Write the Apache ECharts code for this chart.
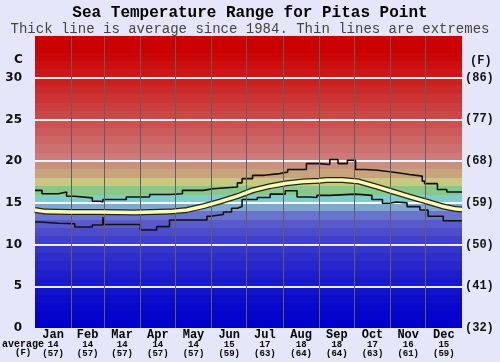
<!DOCTYPE html>
<html>
<head>
<meta charset="utf-8">
<script src="https://cdn.jsdelivr.net/npm/echarts@6/dist/echarts.min.js"></script>
<style>
  html, body { margin: 0; padding: 0; background: #e6e6fa; }
  #chart { width: 500px; height: 362px; }
</style>
</head>
<body>
<div id="chart"></div>
<script>
// months and where they start (day of year)
const months = ['Jan', 'Feb', 'Mar', 'Apr', 'May', 'Jun', 'Jul', 'Aug', 'Sep', 'Oct', 'Nov', 'Dec'];
const monthStart = [0, 31, 59, 90, 120, 151, 181, 212, 243, 273, 304, 334, 365];
const monthAvgC = [14, 14, 14, 14, 14, 15, 17, 18, 18, 17, 16, 15];
const monthAvgF = ['(57)', '(57)', '(57)', '(57)', '(57)', '(59)', '(63)', '(64)', '(64)', '(63)', '(61)', '(59)'];

// axis ticks
const cTicks = [0, 5, 10, 15, 20, 25, 30];
const fTicks = ['(32)', '(41)', '(50)', '(59)', '(68)', '(77)', '(86)'];

// [day, degC]
const avgLine = [
  [0, 14.15], [9, 13.95], [30, 13.9], [55, 13.9], [85, 13.85], [115, 13.95], [130, 14.15],
  [144, 14.6], [158, 15.15], [173, 15.8], [186, 16.5], [201, 17.0], [215, 17.35],
  [229, 17.55], [243, 17.65], [249, 17.75], [263, 17.75], [277, 17.55], [292, 16.95],
  [306, 16.35], [320, 15.75], [335, 15.15], [348, 14.6], [360, 14.25], [365, 14.2]
];
const highLine = [
  [0, 16.5], [6, 16.1], [20, 16.3], [27, 15.8], [34, 15.6], [49, 15.2], [56, 15.1],
  [58, 15.4], [78, 15.7], [98, 16.0], [115, 16.1], [126, 16.5], [144, 16.7], [152, 16.9],
  [173, 17.4], [177, 17.9], [186, 18.3], [196, 18.5], [209, 18.7], [216, 19.0],
  [232, 19.7], [242, 19.6], [252, 20.2], [259, 19.7], [267, 20.1], [274, 19.0],
  [282, 18.9], [293, 18.7], [305, 18.6], [310, 18.4], [320, 18.2], [331, 17.6],
  [333, 17.3], [344, 16.6], [352, 16.3], [365, 16.3]
];
const lowLine = [
  [0, 12.7], [4, 12.55], [20, 12.5], [34, 12.1], [49, 12.35], [58, 13.3], [59, 12.4],
  [90, 11.75], [104, 12.15], [115, 12.95], [147, 13.4], [150, 13.6], [161, 13.9],
  [168, 14.35], [173, 14.55], [177, 15.4], [190, 15.65], [201, 16.05], [214, 16.45],
  [224, 15.7], [235, 15.65], [241, 15.9], [252, 16.05], [274, 15.9], [288, 15.4],
  [297, 14.95], [303, 15.1], [309, 15.0], [318, 14.55], [329, 14.15], [336, 13.4],
  [349, 12.85], [365, 12.85]
];

// background colour for each 1 degree band, from 0C upwards
const bandColors = [
  '#0000cc', '#0404cc', '#0808cc', '#0d0dcc', '#1212cc', '#1818cc', '#1e1ecc', '#2626cc',
  '#2e2ecc', '#3636cc', '#4040cc', '#4c4ccc', '#5a5acc', '#6a74cc', '#80a8d0', '#7fcccc',
  '#88c888', '#c8c880', '#c8a47c', '#c9907e', '#cc7a7a', '#cc7070', '#cc6666', '#cc5c5c',
  '#cc5252', '#cc4848', '#cc3e3e', '#cc3434', '#cc2a2a', '#cc2020', '#cc1717', '#cc0e0e',
  '#cc0606', '#cc0000', '#cc0000'
];

const monthMid = months.map((m, i) => (monthStart[i] + monthStart[i + 1]) / 2);

const stops = [];
bandColors.forEach((c, i) => {
  stops.push({ offset: i / 35, color: c });
  stops.push({ offset: (i + 1) / 35, color: c });
});

const chart = echarts.init(document.getElementById('chart'));
chart.setOption({
  animation: false,
  backgroundColor: '#e6e6fa',
  title: {
    text: 'Sea Temperature Range for Pitas Point',
    subtext: 'Thick line is average since 1984. Thin lines are extremes',
    left: 'center',
    top: 0,
    itemGap: 1,
    textStyle: { fontFamily: 'Liberation Mono', fontWeight: 'bold', fontSize: 16, color: '#000' },
    subtextStyle: { fontFamily: 'Liberation Mono', fontSize: 14, color: '#444' }
  },
  grid: {
    left: 35, right: 38, top: 36, bottom: 34,
    show: true,
    borderWidth: 0,
    backgroundColor: new echarts.graphic.LinearGradient(0, 1, 0, 0, stops)
  },
  xAxis: {
    type: 'value',
    min: 0,
    max: 365,
    axisLine: { show: false },
    axisTick: { show: false },
    splitLine: { show: false },
    axisLabel: {
      customValues: monthMid,
      margin: 1,
      formatter: v => {
        const i = monthMid.indexOf(v);
        if (i < 0) return '';
        return '{m|' + months[i] + '}\n{v|' + monthAvgC[i] + '}\n{v|' + monthAvgF[i] + '}';
      },
      rich: {
        m: { fontFamily: 'Liberation Mono', fontWeight: 'bold', fontSize: 12, lineHeight: 11, color: '#000' },
        v: { fontFamily: 'Liberation Mono', fontWeight: 'bold', fontSize: 9, lineHeight: 9, color: '#000' }
      }
    }
  },
  yAxis: [{
    type: 'value',
    min: 0,
    max: 35,
    interval: 5,
    axisLine: { show: false },
    axisTick: { show: false },
    axisLabel: {
      margin: 13,
      fontFamily: 'DejaVu Sans',
      fontWeight: 'bold',
      fontSize: 12,
      color: '#111',
      formatter: v => (cTicks.indexOf(v) >= 0 ? String(v) : '')
    },
    splitLine: {
      show: true,
      showMinLine: false,
      showMaxLine: false,
      lineStyle: { color: 'rgba(255,255,255,0.92)', width: 2 }
    }
  }, {
    type: 'value',
    position: 'right',
    min: 0,
    max: 35,
    interval: 5,
    axisLine: { show: false },
    axisTick: { show: false },
    splitLine: { show: false },
    axisLabel: {
      margin: 3,
      fontFamily: 'Liberation Mono',
      fontWeight: 'bold',
      fontSize: 12,
      color: '#111',
      formatter: v => fTicks[v / 5] || ''
    }
  }],
  graphic: [
    { type: 'text', left: 14, top: 54, style: { text: 'C', font: 'bold 12px "DejaVu Sans"', fill: '#111' } },
    { type: 'text', left: 470, top: 55, style: { text: '(F)', font: 'bold 12px "Liberation Mono"', fill: '#111' } },
    { type: 'text', left: 2, top: 339, style: { text: 'average', font: 'bold 10px "Liberation Mono"', fill: '#000' } },
    { type: 'text', left: 15, top: 348, style: { text: '(F)', font: 'bold 9px "Liberation Mono"', fill: '#000' } }
  ],
  series: [{
    name: 'low',
    type: 'line',
    step: 'end',
    data: lowLine,
    symbol: 'none',
    z: 2,
    lineStyle: { color: '#111', width: 1.6 },
    markLine: {
      silent: true,
      symbol: 'none',
      label: { show: false },
      lineStyle: { color: '#606060', width: 1, type: 'solid' },
      data: monthStart.slice(1, 12).map(d => ({ xAxis: d }))
    }
  }, {
    name: 'high',
    type: 'line',
    step: 'end',
    data: highLine,
    symbol: 'none',
    z: 3,
    lineStyle: { color: '#111', width: 1.6 }
  }, {
    name: 'avg outline',
    type: 'line',
    data: avgLine,
    symbol: 'none',
    z: 4,
    lineStyle: { color: '#222', width: 6 }
  }, {
    name: 'average',
    type: 'line',
    data: avgLine,
    symbol: 'none',
    z: 5,
    lineStyle: { color: '#ffffb0', width: 3.5 }
  }]
});
</script>
</body>
</html>
